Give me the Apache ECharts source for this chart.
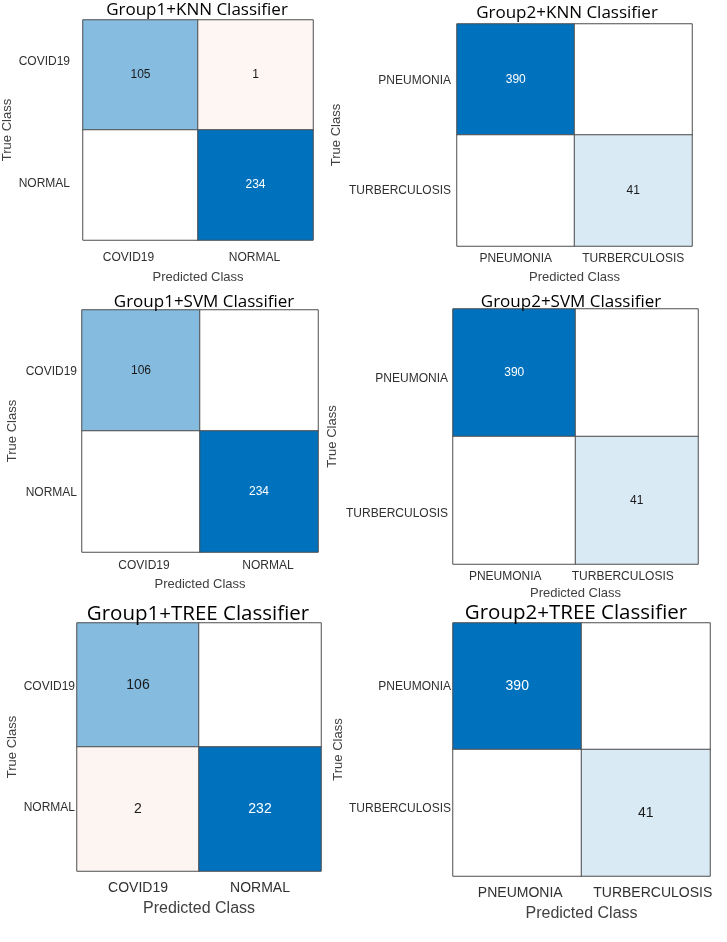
<!DOCTYPE html>
<html>
<head>
<meta charset="utf-8">
<script src="https://cdn.jsdelivr.net/npm/echarts@6/dist/echarts.min.js"></script>
<style>
  html, body { margin: 0; padding: 0; background: #ffffff; }
  #chart { width: 727px; height: 942px; }
</style>
</head>
<body>
<div id="chart"></div>
<script>
// ---- data ----
const classesGroup1 = ['COVID19', 'NORMAL'];
const classesGroup2 = ['PNEUMONIA', 'TURBERCULOSIS'];
const panelTitles = [
  'Group1+KNN Classifier', 'Group2+KNN Classifier',
  'Group1+SVM Classifier', 'Group2+SVM Classifier',
  'Group1+TREE Classifier', 'Group2+TREE Classifier'
];
// rows = true class, columns = predicted class
const group1KNN = [[105, 1], [0, 234]];
const group2KNN = [[390, 0], [0, 41]];
const group1SVM = [[106, 0], [0, 234]];
const group2SVM = [[390, 0], [0, 41]];
const group1TREE = [[106, 0], [2, 232]];
const group2TREE = [[390, 0], [0, 41]];
const xAxisName = 'Predicted Class';
const yAxisName = 'True Class';

const matrices = [group1KNN, group2KNN, group1SVM, group2SVM, group1TREE, group2TREE];
const panelClasses = [classesGroup1, classesGroup2, classesGroup1, classesGroup2, classesGroup1, classesGroup2];

// ---- layout (pixels) ----
const layout = [
  { l: 82,  t: 20,  w: 231, h: 220, tx: 197, ty: 10,  tf: 17,   xf: 12, yf: 12, vf: 12, nf: 13, ynf: 13, xm: 12, ym: 13, xg: 31, yg: 69,  xo: [-12, -1], yo: [-13, -1] },
  { l: 457, t: 24,  w: 235, h: 222, tx: 567, ty: 13,  tf: 17,   xf: 12, yf: 12, vf: 12, nf: 13, ynf: 13, xm: 7,  ym: 6,  xg: 25, yg: 114, xo: [0, 0],    yo: [1, 0] },
  { l: 82,  t: 310, w: 236, h: 242, tx: 204, ty: 302, tf: 17,   xf: 12, yf: 12, vf: 12, nf: 13, ynf: 13, xm: 8,  ym: 5,  xg: 26, yg: 63,  xo: [3, 9],     yo: [1, 1] },
  { l: 453, t: 309, w: 245, h: 255, tx: 571, ty: 302, tf: 17,   xf: 12, yf: 12, vf: 12, nf: 13, ynf: 13, xm: 7,  ym: 5,  xg: 23, yg: 114, xo: [-9, -14],  yo: [6, 13] },
  { l: 77,  t: 623, w: 244, h: 248, tx: 198, ty: 613, tf: 20.5, xf: 14, yf: 12, vf: 14, nf: 16, ynf: 13, xm: 10, ym: 2,  xg: 30, yg: 58,  xo: [0, 0],     yo: [2, -1] },
  { l: 453, t: 623, w: 257, h: 253, tx: 576, ty: 612, tf: 20.5, xf: 14, yf: 12, vf: 14, nf: 16, ynf: 13, xm: 10, ym: 2,  xg: 30, yg: 94,  xo: [3, 7],     yo: [0, -4] }
];

function mix(rgb, r) {
  const c = rgb.map(v => Math.round(255 - (255 - v) * r));
  return 'rgb(' + c.join(',') + ')';
}
const BLUE = [0, 114, 189];
const RED = [217, 83, 25];

function cellColor(v, max, diag) {
  if (v === 0) return '#ffffff';
  const r = 0.05 + 0.95 * (v / max);
  return diag ? mix(BLUE, r) : mix(RED, r);
}

function shiftX(dx) {
  return dx >= 0 ? [0, 0, 0, 2 * dx] : [0, -2 * dx, 0, 0];
}
function shiftY(dy) {
  return dy >= 0 ? [2 * dy, 0, 0, 0] : [0, 0, -2 * dy, 0];
}

const grids = [], xAxes = [], yAxes = [], series = [], titles = [];
const labelFont = 'Arial, "Liberation Sans", Helvetica, sans-serif';
const titleFont = '"Open Sans", "Noto Sans", sans-serif';

matrices.forEach((m, i) => {
  const L = layout[i];
  const cls = panelClasses[i];
  const max = Math.max(...m.flat());
  grids.push({ left: L.l, top: L.t, width: L.w, height: L.h, containLabel: false });
  titles.push({
    text: panelTitles[i], left: L.tx, top: L.ty - L.tf * 0.48, textAlign: 'center', padding: 0,
    textStyle: { fontFamily: titleFont, fontSize: L.tf, fontWeight: 'normal', color: '#000000' }
  });
  xAxes.push({
    type: 'category', gridIndex: i,
    data: cls.map((c, k) => ({ value: c, textStyle: { padding: shiftX(L.xo[k]) } })),
    name: xAxisName, nameLocation: 'middle', nameGap: L.xg,
    nameTextStyle: { fontFamily: labelFont, fontSize: L.nf, color: '#404040' },
    axisLine: { show: false }, axisTick: { show: false }, splitLine: { show: false },
    axisLabel: { fontFamily: labelFont, fontSize: L.xf, color: '#303030', margin: L.xm, interval: 0 }
  });
  const yRich = {};
  cls.forEach((c, k) => {
    yRich['s' + k] = { fontFamily: labelFont, fontSize: L.yf, color: '#303030', padding: shiftY(L.yo[k]) };
  });
  yAxes.push({
    type: 'category', gridIndex: i, inverse: true, data: cls,
    name: yAxisName, nameLocation: 'middle', nameGap: L.yg, nameRotate: 90,
    nameTextStyle: { fontFamily: labelFont, fontSize: L.ynf, color: '#404040' },
    axisLine: { show: false }, axisTick: { show: false }, splitLine: { show: false },
    axisLabel: {
      fontFamily: labelFont, fontSize: L.yf, color: '#303030', margin: L.ym, interval: 0,
      formatter: (val, idx) => '{s' + idx + '|' + val + '}',
      rich: yRich
    }
  });
  const data = [];
  for (let r = 0; r < 2; r++) {
    for (let c = 0; c < 2; c++) {
      const v = m[r][c];
      const diag = r === c;
      const dark = diag && v / max > 0.6;
      data.push({
        value: [c, r, v],
        itemStyle: { color: cellColor(v, max, diag) },
        label: { color: dark ? '#ffffff' : '#1a1a1a' }
      });
    }
  }
  series.push({
    type: 'heatmap', xAxisIndex: i, yAxisIndex: i, data: data,
    itemStyle: { borderColor: '#4d4d4d', borderWidth: 1 },
    label: {
      show: true, fontFamily: labelFont, fontSize: L.vf,
      formatter: p => (p.value[2] === 0 ? '' : String(p.value[2]))
    },
    emphasis: { disabled: true }
  });
});

const chart = echarts.init(document.getElementById('chart'), null, { renderer: 'canvas' });
chart.setOption({
  backgroundColor: '#ffffff',
  animation: false,
  title: titles,
  grid: grids,
  xAxis: xAxes,
  yAxis: yAxes,
  series: series
});
</script>
</body>
</html>
